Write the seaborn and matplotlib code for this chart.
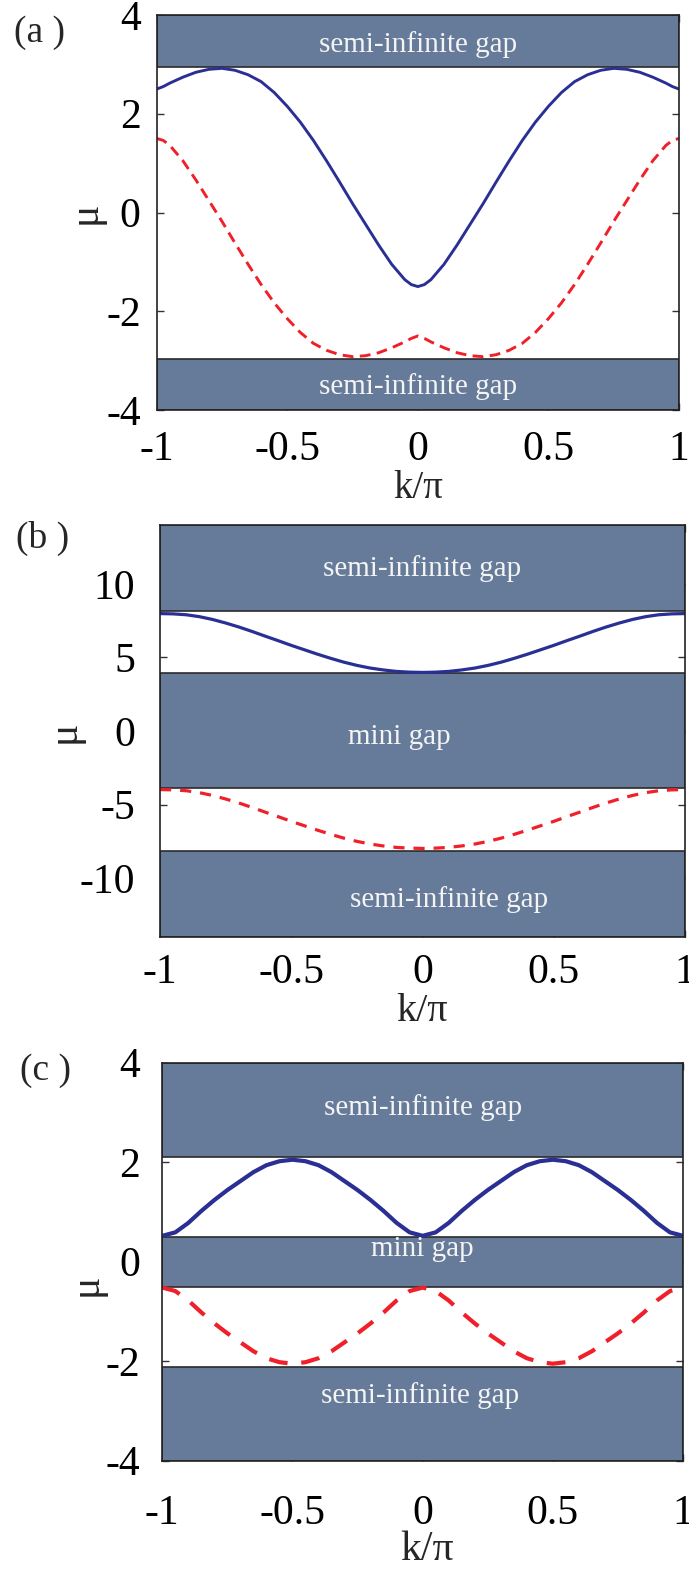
import matplotlib
matplotlib.use("Agg")
import matplotlib.pyplot as plt
import seaborn as sns

# ---------------- data ----------------
k = [-1.00, -0.95, -0.90, -0.85, -0.80, -0.75, -0.70, -0.65, -0.60, -0.55,
     -0.50, -0.45, -0.40, -0.35, -0.30, -0.25, -0.20, -0.15, -0.10, -0.05,
     0.00, 0.05, 0.10, 0.15, 0.20, 0.25, 0.30, 0.35, 0.40, 0.45,
     0.50, 0.55, 0.60, 0.65, 0.70, 0.75, 0.80, 0.85, 0.90, 0.95, 1.00]

# panel (a): finer sampling near the band edges / extrema
k_a = [-1.00, -0.975, -0.95, -0.90, -0.85, -0.80, -0.75, -0.70, -0.65, -0.60, -0.55,
       -0.50, -0.45, -0.40, -0.35, -0.30, -0.25, -0.20, -0.15, -0.10, -0.05, -0.025,
       0.00, 0.025, 0.05, 0.10, 0.15, 0.20, 0.25, 0.30, 0.35, 0.40, 0.45,
       0.50, 0.55, 0.60, 0.65, 0.70, 0.75, 0.80, 0.85, 0.90, 0.95, 0.975, 1.00]
blue_a = [2.50, 2.55, 2.62, 2.74, 2.84, 2.90, 2.92, 2.88, 2.79, 2.65, 2.43,
          2.15, 1.83, 1.46, 1.05, 0.62, 0.18, -0.24, -0.66, -1.05, -1.36, -1.46,
          -1.50, -1.46, -1.36, -1.05, -0.66, -0.24, 0.18, 0.62, 1.05, 1.46, 1.83,
          2.15, 2.43, 2.65, 2.79, 2.88, 2.92, 2.90, 2.84, 2.74, 2.62, 2.55, 2.50]
red_a = [1.50, 1.46, 1.36, 1.05, 0.66, 0.24, -0.18, -0.62, -1.05, -1.46, -1.83,
         -2.15, -2.43, -2.65, -2.79, -2.88, -2.92, -2.90, -2.84, -2.74, -2.62, -2.55,
         -2.50, -2.55, -2.62, -2.74, -2.84, -2.90, -2.92, -2.88, -2.79, -2.65, -2.43,
         -2.15, -1.83, -1.46, -1.05, -0.62, -0.18, 0.24, 0.66, 1.05, 1.36, 1.46, 1.50]
gaps_a = [(2.94, 4.0), (-4.0, -2.96)]
gap_text_a = ["semi-infinite gap", "semi-infinite gap"]
gap_text_pos_a = [(0.0, 3.41), (0.0, -3.53)]

# panel (b)
blue_b = [7.98, 7.96, 7.90, 7.77, 7.58, 7.34, 7.07, 6.77, 6.45, 6.14,
          5.82, 5.52, 5.22, 4.94, 4.68, 4.46, 4.28, 4.15, 4.05, 4.00,
          3.98, 4.00, 4.05, 4.15, 4.28, 4.46, 4.68, 4.94, 5.22, 5.52,
          5.82, 6.14, 6.45, 6.77, 7.07, 7.34, 7.58, 7.77, 7.90, 7.96, 7.98]
red_b = [-3.98, -4.00, -4.06, -4.19, -4.38, -4.62, -4.89, -5.19, -5.51, -5.82,
         -6.14, -6.44, -6.74, -7.02, -7.28, -7.50, -7.68, -7.81, -7.91, -7.96,
         -7.98, -7.96, -7.91, -7.81, -7.68, -7.50, -7.28, -7.02, -6.74, -6.44,
         -6.14, -5.82, -5.51, -5.19, -4.89, -4.62, -4.38, -4.19, -4.06, -4.00, -3.98]
gaps_b = [(8.15, 14.0), (-3.88, 3.96), (-14.0, -8.15)]
gap_text_b = ["semi-infinite gap", "mini gap", "semi-infinite gap"]
gap_text_pos_b = [(0.0, 11.05), (-0.09, -0.39), (0.10, -11.43)]

# panel (c)
blue_c = [0.52, 0.59, 0.78, 1.02, 1.24, 1.44, 1.62, 1.80, 1.94, 2.02,
          2.05, 2.02, 1.94, 1.80, 1.62, 1.44, 1.24, 1.02, 0.78, 0.59,
          0.52, 0.59, 0.78, 1.02, 1.24, 1.44, 1.62, 1.80, 1.94, 2.02,
          2.05, 2.02, 1.94, 1.80, 1.62, 1.44, 1.24, 1.02, 0.78, 0.59, 0.52]
red_c = [-0.52, -0.59, -0.78, -1.02, -1.24, -1.44, -1.62, -1.80, -1.94, -2.02,
         -2.05, -2.02, -1.94, -1.80, -1.62, -1.44, -1.24, -1.02, -0.78, -0.59,
         -0.52, -0.59, -0.78, -1.02, -1.24, -1.44, -1.62, -1.80, -1.94, -2.02,
         -2.05, -2.02, -1.94, -1.80, -1.62, -1.44, -1.24, -1.02, -0.78, -0.59, -0.52]
gaps_c = [(2.11, 4.0), (-0.50, 0.50), (-4.0, -2.11)]
gap_text_c = ["semi-infinite gap", "mini gap", "semi-infinite gap"]
gap_text_pos_c = [(0.0, 3.10), (0.0, 0.26), (-0.01, -2.69)]

xticks = [-1, -0.5, 0, 0.5, 1]
xtick_labels = ["-1", "-0.5", "0", "0.5", "1"]
yticks_a = [-4, -2, 0, 2, 4]
ytick_labels_a = ["-4", "-2", "0", "2", "4"]
yticks_b = [-10, -5, 0, 5, 10]
ytick_labels_b = ["-10", "-5", "0", "5", "10"]
yticks_c = [-4, -2, 0, 2, 4]
ytick_labels_c = ["-4", "-2", "0", "2", "4"]
panel_labels = ["(a )", "(b )", "(c )"]
xlabel = "k/\u03c0"
ylabel = "\u03bc"

# ---------------- style ----------------
sns.set_theme(style="ticks")
plt.rcParams["font.family"] = ["Liberation Serif", "DejaVu Serif"]
plt.rcParams["axes.unicode_minus"] = False

BLUE = "#2a2f94"
RED = "#f0202a"
BAND = "#657b99"
EDGE = "#2b2b2b"

W, H = 689, 1571
fig = plt.figure(figsize=(W / 100, H / 100), dpi=100)
fig.patch.set_facecolor("white")


def px_axes(l, t, r, b):
    return fig.add_axes([l / W, 1 - b / H, (r - l) / W, (b - t) / H])


panels = [
    dict(box=(156.7, 15, 679, 410), ylim=(-4, 4), x=k_a, blue=blue_a, red=red_a,
         gaps=gaps_a, gtext=gap_text_a, gpos=gap_text_pos_a,
         yt=yticks_a, ytl=ytick_labels_a, lw=2.1, dash=(3.7, 2.2),
         xpad=15, ypad=11.5, xlab_y=-0.20, xlab_x=0.50, xlab_size=28,
         ylab=(-0.137, 0.50), plabel=(39.5, 33)),
    dict(box=(160, 525, 685, 937), ylim=(-14, 14), x=k, blue=blue_b, red=red_b,
         gaps=gaps_b, gtext=gap_text_b, gpos=gap_text_pos_b,
         yt=yticks_b, ytl=ytick_labels_b, lw=2.3, dash=(3.5, 2.8),
         xpad=12, ypad=18, xlab_y=-0.18, xlab_x=0.50, xlab_size=29,
         ylab=(-0.183, 0.498), plabel=(43, 538)),
    dict(box=(162.3, 1062.7, 683, 1460.7), ylim=(-4, 4), x=k, blue=blue_c, red=red_c,
         gaps=gaps_c, gtext=gap_text_c, gpos=gap_text_pos_c,
         yt=yticks_c, ytl=ytick_labels_c, lw=3.0, dash=(4.5, 3.3),
         xpad=24, ypad=16, xlab_y=-0.224, xlab_x=0.508, xlab_size=30,
         ylab=(-0.145, 0.441), plabel=(46, 1071)),
]

for p, plab in zip(panels, panel_labels):
    ax = px_axes(*p["box"])
    ax.set_facecolor("white")
    for lo, hi in p["gaps"]:
        ax.axhspan(lo, hi, facecolor=BAND, edgecolor=EDGE, linewidth=1.2, zorder=1)
    sns.lineplot(x=p["x"], y=p["blue"], ax=ax, color=BLUE, linewidth=p["lw"], zorder=3)
    sns.lineplot(x=p["x"], y=p["red"], ax=ax, color=RED, linewidth=p["lw"],
                 linestyle=(0, p["dash"]), zorder=3)
    for txt, (tx, ty) in zip(p["gtext"], p["gpos"]):
        ax.text(tx, ty, txt, color="#f4f4f4", fontsize=21, ha="center", va="center",
                zorder=4)
    ax.set_xlim(-1, 1)
    ax.set_ylim(*p["ylim"])
    ax.set_xticks(xticks, labels=xtick_labels)
    ax.set_yticks(p["yt"], labels=p["ytl"])
    ax.tick_params(axis="both", direction="in", length=5, width=1, color="#333333",
                   top=True, right=True, labelsize=30, labelcolor="black")
    ax.tick_params(axis="x", pad=p["xpad"])
    ax.tick_params(axis="y", pad=p["ypad"])
    for sp in ax.spines.values():
        sp.set_visible(True)
        sp.set_color("#222222")
        sp.set_linewidth(1.2)
        sp.set_zorder(5)
    ax.set_xlabel(xlabel, fontsize=p["xlab_size"], va="center")
    ax.xaxis.set_label_coords(p["xlab_x"], p["xlab_y"])
    ax.set_ylabel(ylabel, fontsize=30, va="center", rotation=90)
    ax.yaxis.set_label_coords(*p["ylab"])
    fig.text(p["plabel"][0] / W, 1 - p["plabel"][1] / H, plab, fontsize=27,
             ha="center", va="center")

fig.savefig("out.png", dpi=100, facecolor="white")
